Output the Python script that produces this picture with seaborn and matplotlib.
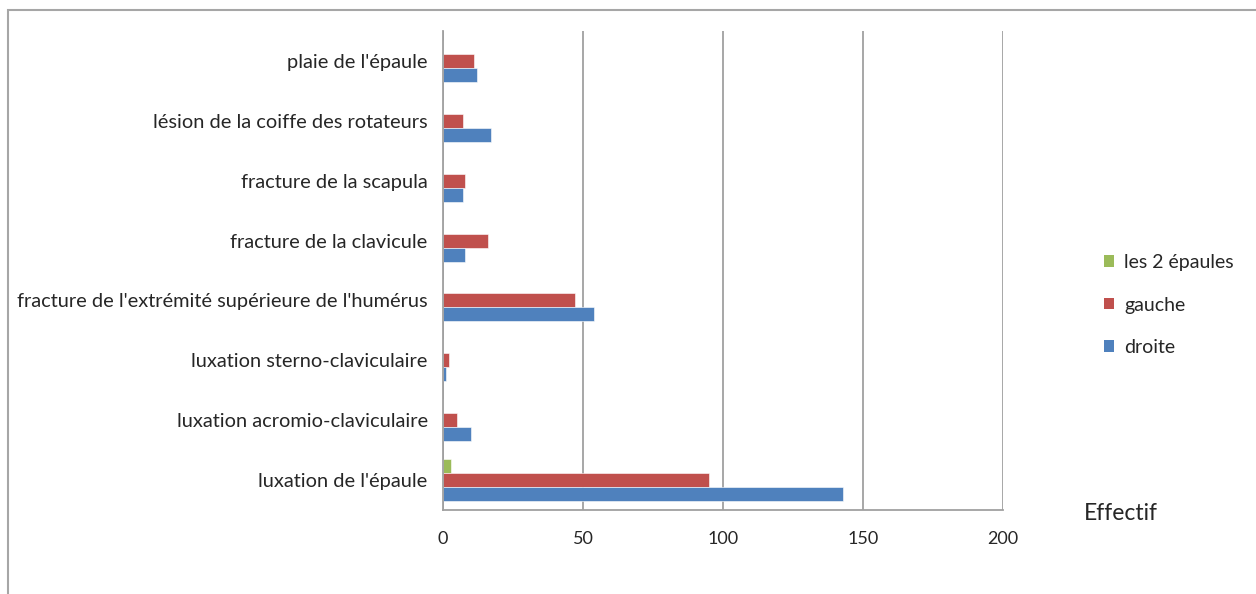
import matplotlib
matplotlib.use("Agg")
import matplotlib.pyplot as plt
import seaborn as sns
import pandas as pd
from matplotlib.patches import Rectangle, Patch

categories = [
    "plaie de l'épaule",
    "lésion de la coiffe des rotateurs",
    "fracture de la scapula",
    "fracture de la clavicule",
    "fracture de l'extrémité supérieure de l'humérus",
    "luxation sterno-claviculaire",
    "luxation acromio-claviculaire",
    "luxation de l'épaule",
]
droite = [12, 17, 7, 8, 54, 1, 10, 143]
gauche = [11, 7, 8, 16, 47, 2, 5, 95]
les_2_epaules = [0, 0, 0, 0, 0, 0, 0, 3]
series_names = ["les 2 épaules", "gauche", "droite"]
colors = ["#9BBB59", "#C0504D", "#4F81BD"]
x_ticks = [0, 50, 100, 150, 200]

sns.set_theme(style="white")
plt.rcParams['font.family'] = ['Lato', 'DejaVu Sans']

rows = []
for name, vals in zip(series_names, [les_2_epaules, gauche, droite]):
    for c, v in zip(categories, vals):
        rows.append({"cat": c, "serie": name, "val": v})
df = pd.DataFrame(rows)

fig = plt.figure(figsize=(12.56, 5.94), dpi=100)
ax = fig.add_axes([443 / 1256, 1 - 510 / 594, 560 / 1256, 479 / 594])

sns.barplot(data=df, y="cat", x="val", hue="serie", order=categories,
            hue_order=series_names, palette=colors, width=0.7,
            orient="h", ax=ax, legend=False, saturation=1,
            edgecolor="white", linewidth=0.4)

ax.set_xlim(0, 200)
ax.set_xticks(x_ticks)
ax.set_ylim(len(categories) - 0.5, -0.5)
ax.xaxis.grid(True, color="#A0A0A0", linewidth=1.3)
ax.set_axisbelow(True)
for s in ["top", "right"]:
    ax.spines[s].set_visible(False)
for s in ["left", "bottom"]:
    ax.spines[s].set_color("#A0A0A0")
    ax.spines[s].set_linewidth(1.3)

ax.set_yticks([i for i in range(len(categories))])
ax.set_yticklabels(categories)
ax.set_yticks([i - 0.5 for i in range(len(categories) + 1)], minor=True)
ax.tick_params(axis="y", which="major", length=0, pad=11, labelsize=14.4, labelcolor="#262626")
ax.tick_params(axis="y", which="minor", length=5, width=1.3, color="#A0A0A0", direction="out")
ax.tick_params(axis="x", which="major", length=7, width=1.3, color="#A0A0A0",
               direction="out", pad=8, labelsize=13, labelcolor="#262626")
ax.set_xlabel("")
ax.set_ylabel("")

fig.text(1121 / 1256, 1 - 514 / 594, "Effectif", ha="center", va="center",
         fontsize=16.5, color="#262626")

handles = [Patch(facecolor=c, edgecolor="none") for c in colors]
fig.legend(handles, series_names, loc="center left",
           bbox_to_anchor=(1086 / 1256, 1 - 305 / 594), frameon=False,
           fontsize=14, handlelength=0.55, handleheight=0.55, labelspacing=1.3,
           handletextpad=0.5, labelcolor="#262626")

fig.patches.append(Rectangle((8 / 1256, -0.1), 1.2, 1 - 10 / 594 + 0.1,
                             transform=fig.transFigure, fill=False,
                             edgecolor="#A6A6A6", linewidth=1.5))

fig.savefig("out.png", dpi=100)
